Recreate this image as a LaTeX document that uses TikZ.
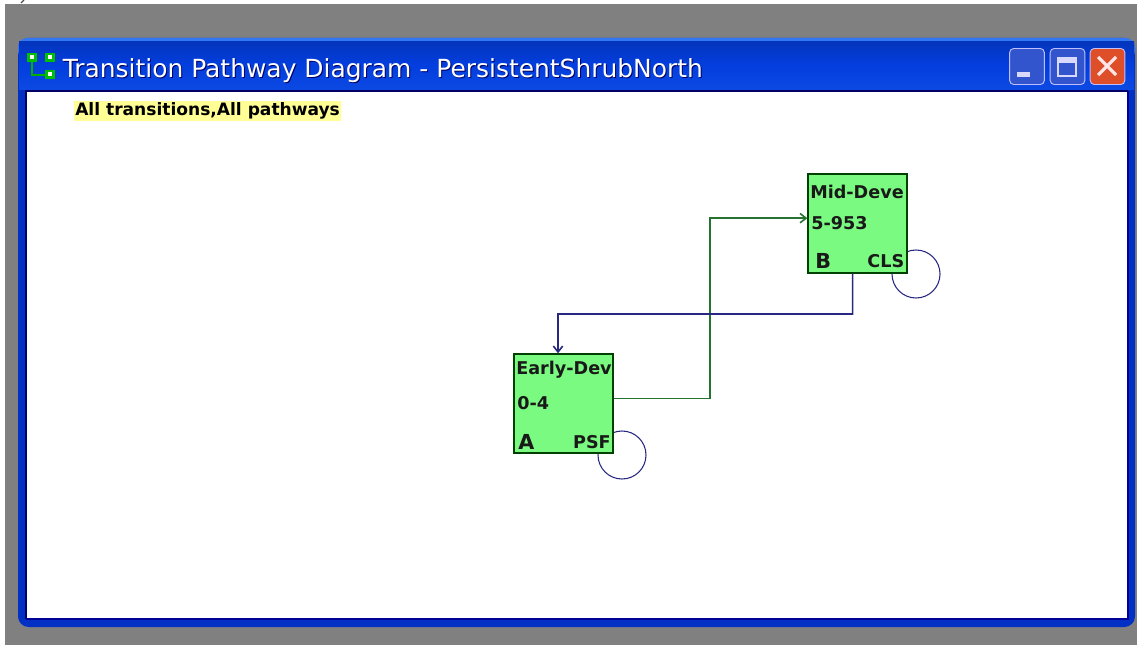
\documentclass[tikz,border=0pt]{standalone}
\usepackage{fontspec}
\usetikzlibrary{arrows.meta}
\setmainfont{DejaVu Sans}
\definecolor{wingrey}{RGB}{128,128,128}
\definecolor{winblue}{RGB}{2,48,196}
\definecolor{barblue}{RGB}{3,62,222}
\definecolor{barlight}{RGB}{50,120,245}
\definecolor{boxgreen}{RGB}{122,250,128}
\definecolor{linegreen}{RGB}{38,115,48}
\definecolor{lineblue}{RGB}{40,40,130}
\definecolor{noteyellow}{RGB}{255,255,150}
\definecolor{iconblue}{RGB}{50,85,205}
\definecolor{closered}{RGB}{222,78,40}
\tikzset{
	statebox/.style={draw=black!75!green,fill=boxgreen,line width=1pt,minimum size=74.25pt,inner sep=0pt},
	boxtext/.style={font=\bfseries\fontsize{13.2pt}{15pt}\selectfont,inner sep=0pt,text=black!90},
	codetext/.style={font=\bfseries\fontsize{15.5pt}{17pt}\selectfont,inner sep=0pt,text=black!90},
	selfloop/.style={draw=lineblue,line width=0.8pt},
	winbutton/.style={draw=white!75!blue,line width=0.7pt,rounded corners=3pt,minimum width=26pt,minimum height=27pt,inner sep=0pt},
	bartitle/.style={anchor=west,inner sep=0pt,font=\fontsize{18.7pt}{21pt}\selectfont},
	arrowtip/.style={>={Straight Barb[length=4.5pt,width=7pt]}},
}
\begin{document}
\begin{tikzpicture}[x=0.75pt,y=-0.75pt]
	\useasboundingbox (0,0) rectangle (1137,645);
	%BACKGROUND
	\fill[wingrey] (5,4) rectangle (1137,645);
	\draw[black!70,line width=0.8pt] (24,0)--(21,3);
	
	%WINDOW
	\fill[winblue,rounded corners=8pt] (18,627)--(18,38)--(1135,38)--(1135,627)--cycle;
	\fill[barlight,rounded corners=7pt] (18,60)--(18,38)--(1135,38)--(1135,60)--cycle;
	\shade[top color=barblue!85!black,bottom color=barblue] (19,42) rectangle (1134,65);
	\shade[top color=barblue,bottom color=barblue!80!barlight] (19,65) rectangle (1134,90);
	\fill[white] (26,91) rectangle (1128,619);
	\draw[black!60!blue,line width=1pt] (26,619)--(26,91)--(1128,91);
	\draw[black!40!blue,line width=0.8pt] (26,619)--(1128,619)--(1128,91);
	
	%TITLE ICON
	\draw[green!70!black,line width=1.2pt] (32,60)--(32,75)--(46,75);
	\fill[green!75!black] (27,53) rectangle (37,62);
	\fill[green!75!black] (45,53) rectangle (55,62);
	\fill[green!75!black] (45,70) rectangle (55,79);
	\fill[white] (30,55) rectangle (34,59);
	\fill[white] (48,55) rectangle (52,59);
	\fill[white] (48,72) rectangle (52,76);
	
	%TITLE
	\node[bartitle,text=black!60!blue] at (63.5,71.5) {Transition Pathway Diagram - PersistentShrubNorth};
	\node[bartitle,text=white] (title) at (62.5,70.5) {Transition Pathway Diagram - PersistentShrubNorth};
	
	%BUTTONS
	\node[winbutton,fill=iconblue] (minbtn) at (1027,66.5) {};
	\node[winbutton,fill=iconblue] (maxbtn) at (1067.5,66.5) {};
	\node[winbutton,fill=closered] (closebtn) at (1107.5,66.5) {};
	\fill[white!85!blue] (1017,72) rectangle (1030,77);
	\draw[white!85!blue,line width=1pt] (1058,58) rectangle (1076,76);
	\fill[white!85!blue] (1058,58) rectangle (1076,63);
	\draw[white!90!red,line width=2.4pt] (1098,57)--(1116,75);
	\draw[white!90!red,line width=2.4pt] (1116,57)--(1098,75);
	
	%NOTE
	\fill[noteyellow] (74,101) rectangle (341,121);
	\node[anchor=west,inner sep=0pt,font=\bfseries\fontsize{12.8pt}{15pt}\selectfont,text=black] (note) at (75,110.5) {All transitions,All pathways};
	
	%LOOPS
	\draw[selfloop] (916,274) circle (18pt);
	\draw[selfloop] (622,455) circle (18pt);
	
	%BOXES
	\node[statebox] (mid) at (857.5,223.5) {};
	\node[statebox] (early) at (563.5,403.5) {};
	
	%BOX LABELS
	\node[boxtext,anchor=west] (midname) at (810,192) {Mid-Deve};
	\node[boxtext,anchor=west] (midrange) at (811,223) {5-953};
	\node[codetext,anchor=west] (midcode) at (815,261) {B};
	\node[boxtext,anchor=east] (midtype) at (904.5,261) {CLS};
	\node[boxtext,anchor=west] (earlyname) at (516,370) {Early-Dev};
	\node[boxtext,anchor=west] (earlyrange) at (517,403) {0-4};
	\node[codetext,anchor=west] (earlycode) at (518,442) {A};
	\node[boxtext,anchor=east] (earlytype) at (611,442) {PSF};
	
	%CONNECTORS
	\coordinate (greenturn) at (710,300);
	\coordinate (blueturn) at (558,314);
	\draw[linegreen,line width=1.2pt,arrowtip,->] ([yshift=3.9pt]early.east) -| (greenturn) |- ([yshift=4pt]mid.west);
	\draw[lineblue,line width=1.2pt,arrowtip,->] ([xshift=-3.7pt]mid.south) |- (blueturn) -- ([xshift=-4.1pt]early.north);
\end{tikzpicture}
\end{document}
